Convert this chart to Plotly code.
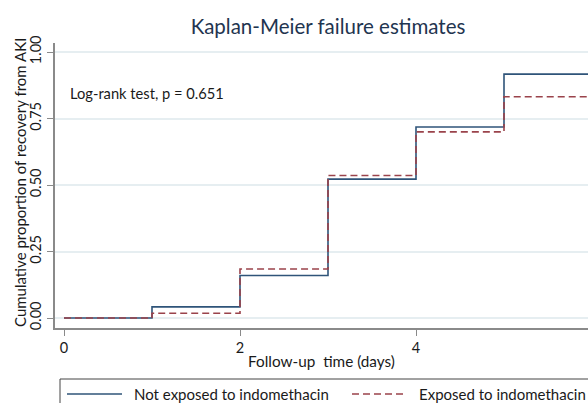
import plotly.graph_objects as go

# ---- data ----
event_times = [0, 1, 2, 3, 4, 5]
follow_up_end = 6
not_exposed = [0.0, 0.042, 0.160, 0.522, 0.718, 0.917]
exposed = [0.0, 0.018, 0.184, 0.536, 0.700, 0.832]
series_names = ["Not exposed to indomethacin", "Exposed to indomethacin"]
x_ticks = [0, 2, 4, 6]
y_ticks = [0, 0.25, 0.5, 0.75, 1.0]
y_tick_labels = ["0.00", "0.25", "0.50", "0.75", "1.00"]
title_text = "Kaplan-Meier failure estimates"
x_title = "Follow-up  time (days)"
y_title = "Cumulative proportion of recovery from AKI"
note_text = "Log-rank test, p = 0.651"

# ---- styling ----
W, H = 588, 403
L, R, T, B = 55, 588, 43, 328  # plot area pixels
FONT = "Lato"
BLUE = "#2f5479"
RED = "#9a434b"
GRID = "#e6eef1"
AXIS = "#8a8a8a"
TXT = "#1a1a1a"


def px(xp):
    return (xp - L) / (R - L)


def py(yp):
    return (B - yp) / (B - T)


def steps(values):
    xs = list(event_times) + [follow_up_end]
    ys = list(values) + [values[-1]]
    return xs, ys


fig = go.Figure()
xs, ys = steps(not_exposed)
fig.add_trace(go.Scatter(x=xs, y=ys, mode="lines", line_shape="hv",
                         line=dict(color=BLUE, width=1.6), name=series_names[0]))
xs, ys = steps(exposed)
fig.add_trace(go.Scatter(x=xs, y=ys, mode="lines", line_shape="hv",
                         line=dict(color=RED, width=1.6, dash="7px,4px"), name=series_names[1]))

fig.update_layout(
    width=W, height=H,
    margin=dict(l=L, r=W - R, t=T, b=H - B, autoexpand=False),
    paper_bgcolor="white", plot_bgcolor="white",
    showlegend=False,
    font=dict(family=FONT, size=14, color=TXT),
    title=dict(text=title_text, x=328 / W, xanchor="center", y=1 - 27 / H, yanchor="middle",
               font=dict(family=FONT, size=20.5, color="#1f3550")),
)
fig.update_xaxes(
    range=[(L - 64) / 88, (R - 64) / 88],
    tickvals=x_ticks, ticktext=[str(v) for v in x_ticks],
    showgrid=False, zeroline=False,
    showline=True, linecolor=AXIS, linewidth=1.5,
    ticks="outside", ticklen=6, tickcolor=AXIS, tickwidth=1.2,
    tickfont=dict(size=14.5, color=TXT),
    title=dict(text=x_title, font=dict(size=15.3, color=TXT), standoff=1),
)
fig.update_yaxes(
    range=[-0.0376, 1.034],
    tickvals=y_ticks, ticktext=y_tick_labels, tickangle=-90,
    showgrid=True, gridcolor=GRID, gridwidth=1.5, zeroline=False,
    showline=True, linecolor=AXIS, linewidth=1.5,
    ticks="outside", ticklen=6, tickcolor=AXIS, tickwidth=1.2,
    tickfont=dict(size=14.5, color=TXT),
)

# y-axis title
fig.add_annotation(text=y_title, textangle=-90, xref="paper", yref="paper",
                   x=px(20), y=py(183), xanchor="center", yanchor="middle",
                   showarrow=False, font=dict(size=15, color=TXT))
# note
fig.add_annotation(text=note_text, xref="paper", yref="paper",
                   x=px(68), y=py(93), xanchor="left", yanchor="middle",
                   showarrow=False, font=dict(size=14.7, color=TXT))

# manual legend (box partly outside the canvas, like the reference)
fig.add_shape(type="rect", xref="paper", yref="paper",
              x0=px(60), x1=px(620), y0=py(379), y1=py(420),
              line=dict(color="#444444", width=1), fillcolor="rgba(0,0,0,0)", layer="above")
legend_items = [(series_names[0], BLUE, "solid", 67, 122, 132),
                (series_names[1], RED, "7px,4px", 352, 407, 417)]
for name, col, dash, x0, x1, xt in legend_items:
    fig.add_shape(type="line", xref="paper", yref="paper",
                  x0=px(x0), x1=px(x1), y0=py(394), y1=py(394),
                  line=dict(color=col, width=1.6, dash=dash))
    fig.add_annotation(text=name, xref="paper", yref="paper",
                       x=px(xt), y=py(394), xanchor="left", yanchor="middle",
                       showarrow=False, font=dict(size=15, color=TXT))

fig.write_html("out.html", config={"displayModeBar": False},
               post_script="document.body.style.margin='0px';")
